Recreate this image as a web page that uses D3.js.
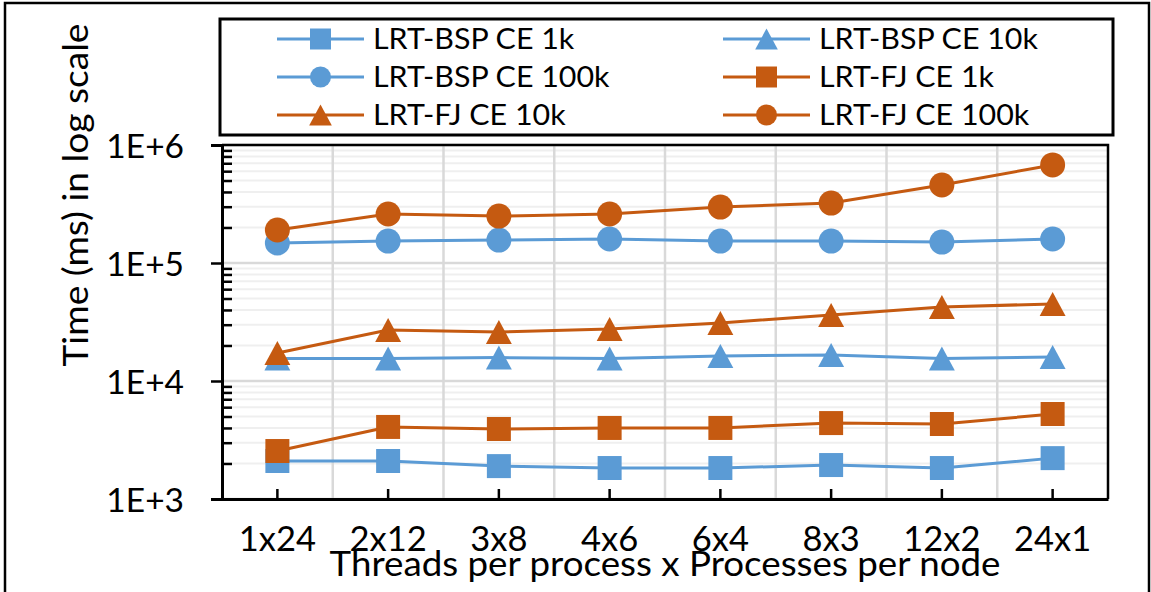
<!DOCTYPE html>
<html>
<head>
<meta charset="utf-8">
<script src="https://cdn.jsdelivr.net/npm/d3@7"></script>
<style>
  html, body { margin: 0; padding: 0; background: #fff; }
  svg { display: block; }
  text { font-family: Lato, "Open Sans", sans-serif; fill: #000; }
</style>
</head>
<body>
<svg id="chart" width="1151" height="592"></svg>
<script>
// ---- data ----
const categories = ["1x24", "2x12", "3x8", "4x6", "6x4", "8x3", "12x2", "24x1"];
const bspCE1k   = [2100, 2100, 1900, 1830, 1830, 1940, 1830, 2220];
const bspCE10k  = [15500, 15500, 15800, 15500, 16300, 16600, 15500, 16000];
const bspCE100k = [147700, 153500, 156500, 159700, 153500, 153500, 150500, 159700];
const fjCE1k    = [2550, 4080, 3920, 4000, 4000, 4400, 4320, 5250];
const fjCE10k   = [17260, 27060, 26000, 27600, 31000, 36300, 42400, 45000];
const fjCE100k  = [190500, 260000, 250000, 260000, 298000, 322000, 458000, 678000];
const yTickValues = [1e3, 1e4, 1e5, 1e6];
const yTickLabels = ["1E+3", "1E+4", "1E+5", "1E+6"];
const seriesNames = ["LRT-BSP CE 1k", "LRT-BSP CE 10k", "LRT-BSP CE 100k",
                     "LRT-FJ CE 1k", "LRT-FJ CE 10k", "LRT-FJ CE 100k"];
const xTitle = "Threads per process x Processes per node";
const yTitle = "Time (ms) in log scale";

// ---- styling ----
const BLUE = "#5B9BD5", ORANGE = "#C55A11";
const seriesData = [bspCE1k, bspCE10k, bspCE100k, fjCE1k, fjCE10k, fjCE100k];
const seriesColor = [BLUE, BLUE, BLUE, ORANGE, ORANGE, ORANGE];
const seriesShape = ["square", "triangle", "circle", "square", "triangle", "circle"];

const svg = d3.select("#chart");
const plot = { left: 222, right: 1108, top: 145, bottom: 499 };

function fit(sel, factor) {
  sel.each(function () {
    const len = this.getComputedTextLength();
    d3.select(this).attr("textLength", len * factor).attr("lengthAdjust", "spacingAndGlyphs");
  });
}

function markerPath(shape, s) {
  const p = d3.path();
  if (shape === "square") {
    p.rect(-s / 2, -s / 2, s, s);
  } else if (shape === "circle") {
    p.arc(0, 0, s / 2, 0, 2 * Math.PI);
  } else {
    const w = s * 1.08, h = s;
    p.moveTo(0, -h / 2); p.lineTo(w / 2, h / 2); p.lineTo(-w / 2, h / 2); p.closePath();
  }
  return p.toString();
}

// outer border
svg.append("rect").attr("x", 5).attr("y", 3).attr("width", 1144).attr("height", 620)
  .attr("fill", "#fff").attr("stroke", "#000").attr("stroke-width", 2.5);

// scales
const x = d3.scaleBand().domain(categories).range([plot.left, plot.right]).padding(0);
const y = d3.scaleLog().domain([1e3, 1e6]).range([plot.bottom, plot.top]);

// minor gridlines
const minorVals = [];
for (let e = 3; e < 6; e++) for (let m = 2; m <= 9; m++) minorVals.push(m * Math.pow(10, e));
svg.append("g").selectAll("line").data(minorVals).join("line")
  .attr("x1", plot.left).attr("x2", plot.right)
  .attr("y1", d => y(d)).attr("y2", d => y(d))
  .attr("stroke", "#efefef").attr("stroke-width", 2);

// major gridlines
svg.append("g").selectAll("line").data(yTickValues).join("line")
  .attr("x1", plot.left).attr("x2", plot.right)
  .attr("y1", d => y(d)).attr("y2", d => y(d))
  .attr("stroke", "#d9d9d9").attr("stroke-width", 2.5);

// vertical gridlines at category boundaries
svg.append("g").selectAll("line").data(categories.slice(1)).join("line")
  .attr("x1", d => x(d)).attr("x2", d => x(d))
  .attr("y1", plot.top).attr("y2", plot.bottom)
  .attr("stroke", "#d9d9d9").attr("stroke-width", 2.5);

// plot border (top & right)
svg.append("path")
  .attr("d", `M${plot.left},${plot.top}H${plot.right}V${plot.bottom}`)
  .attr("fill", "none").attr("stroke", "#000").attr("stroke-width", 2.5);

// y axis
const yAxis = d3.axisLeft(y).tickValues(yTickValues).tickFormat((d, i) => yTickLabels[i])
  .tickSize(11).tickPadding(27);
const gy = svg.append("g").attr("transform", `translate(${plot.left},0)`).call(yAxis);
gy.select(".domain").attr("stroke", "#000").attr("stroke-width", 3);
gy.selectAll(".tick line").attr("stroke", "#000").attr("stroke-width", 2.5);
gy.selectAll(".tick text").attr("font-size", 33.5).attr("dy", "0.36em")
  .style("font-family", "Lato, sans-serif").attr("fill", "#000");
fit(gy.selectAll(".tick text"), 1.0);
// minor ticks inside
const yMinor = d3.axisRight(y).tickValues(minorVals).tickFormat("").tickSize(10);
const gym = svg.append("g").attr("transform", `translate(${plot.left},0)`).call(yMinor);
gym.select(".domain").remove();
gym.selectAll(".tick line").attr("stroke", "#000").attr("stroke-width", 2.5);

// x axis
const xAxis = d3.axisBottom(x).tickSize(0).tickPadding(0);
const gx = svg.append("g").attr("transform", `translate(0,${plot.bottom})`).call(xAxis);
gx.select(".domain").attr("stroke", "#000").attr("stroke-width", 3);
gx.selectAll(".tick text").attr("font-size", 34.5).attr("y", 52).attr("dy", 0)
  .style("font-family", "Lato, sans-serif").attr("fill", "#000");
fit(gx.selectAll(".tick text"), 1.0);
// inward ticks at category centers
svg.append("g").selectAll("line").data(categories).join("line")
  .attr("x1", d => x(d) + x.bandwidth() / 2).attr("x2", d => x(d) + x.bandwidth() / 2)
  .attr("y1", plot.bottom).attr("y2", plot.bottom - 10)
  .attr("stroke", "#000").attr("stroke-width", 2.5);

// axis titles
const xt = svg.append("text").attr("x", (plot.left + plot.right) / 2).attr("y", 576)
  .attr("text-anchor", "middle").attr("font-size", 34).text(xTitle);
fit(xt, 1.08);
const yt = svg.append("text").attr("transform", "translate(88,195) rotate(-90)")
  .attr("text-anchor", "middle").attr("font-size", 34).text(yTitle);
fit(yt, 1.09);

// series
const line = d3.line().x((d, i) => x(categories[i]) + x.bandwidth() / 2).y(d => y(d));
seriesData.forEach((vals, si) => {
  const g = svg.append("g");
  g.append("path").attr("d", line(vals)).attr("fill", "none")
    .attr("stroke", seriesColor[si]).attr("stroke-width", 3).attr("stroke-linejoin", "round");
  g.selectAll("path.m").data(vals).join("path").attr("class", "m")
    .attr("transform", (d, i) => `translate(${x(categories[i]) + x.bandwidth() / 2},${y(d)})`)
    .attr("d", markerPath(seriesShape[si], seriesShape[si] === "circle" ? 25 : 24))
    .attr("fill", seriesColor[si]);
});

// legend
const legend = { left: 220, top: 19, right: 1113, bottom: 135 };
svg.append("rect").attr("x", legend.left).attr("y", legend.top)
  .attr("width", legend.right - legend.left).attr("height", legend.bottom - legend.top)
  .attr("fill", "#fff").attr("stroke", "#000").attr("stroke-width", 3);
const colX = [277, 723];
const rowY = [39, 77, 115];
seriesNames.forEach((name, i) => {
  const cx = colX[i % 2], cy = rowY[Math.floor(i / 2)];
  const g = svg.append("g").attr("transform", `translate(${cx},${cy})`);
  g.append("line").attr("x1", 0).attr("x2", 87).attr("y1", 0).attr("y2", 0)
    .attr("stroke", seriesColor[i]).attr("stroke-width", 3);
  g.append("path").attr("transform", "translate(43.5,0)")
    .attr("d", markerPath(seriesShape[i], 21)).attr("fill", seriesColor[i]);
  const t = g.append("text").attr("x", 96).attr("y", 10).attr("font-size", 29.5).text(name);
  fit(t, 1.03);
});
</script>
</body>
</html>
